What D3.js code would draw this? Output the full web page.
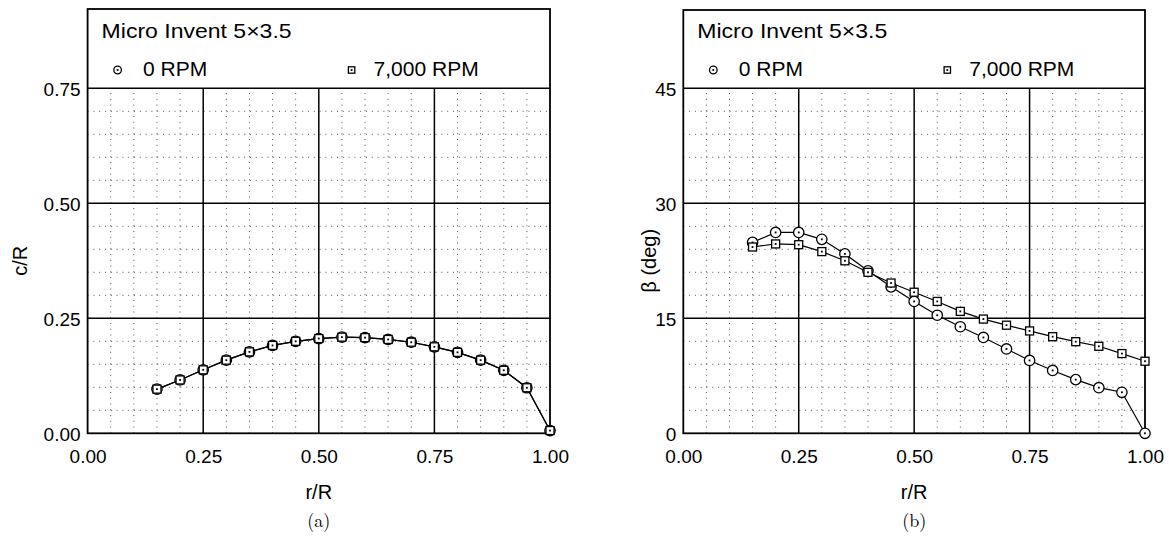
<!DOCTYPE html>
<html><head><meta charset="utf-8">
<script src="https://cdn.jsdelivr.net/npm/d3@7"></script>
<style>
body{margin:0;background:#fff}
svg{display:block}
text{font-family:"Liberation Sans",Arial,Helvetica,sans-serif;fill:#000}
</style></head>
<body>
<svg id="chart" width="1169" height="538"></svg>
<script>
const rR = [0.15,0.20,0.25,0.30,0.35,0.40,0.45,0.50,0.55,0.60,0.65,0.70,0.75,0.80,0.85,0.90,0.95,1.00];
const cR_0rpm = [0.096,0.116,0.138,0.159,0.177,0.191,0.200,0.206,0.209,0.208,0.204,0.198,0.188,0.176,0.159,0.137,0.099,0.006];
const cR_7000rpm = [0.096,0.116,0.138,0.159,0.177,0.191,0.200,0.206,0.209,0.208,0.204,0.198,0.188,0.176,0.159,0.137,0.099,0.006];
const beta_0rpm = [24.9,26.2,26.2,25.3,23.4,21.2,19.1,17.2,15.4,13.9,12.5,11.0,9.5,8.2,7.0,5.95,5.35,0.0];
const beta_7000rpm = [24.3,24.7,24.6,23.7,22.5,21.0,19.6,18.4,17.2,15.9,14.9,14.1,13.35,12.6,11.95,11.35,10.4,9.4];
const xTicks = [0,0.25,0.5,0.75,1.0];
const xTickLabels = ["0.00","0.25","0.50","0.75","1.00"];
const yTicksA = [0,0.25,0.5,0.75];
const yTickLabelsA = ["0.00","0.25","0.50","0.75"];
const yTicksB = [0,15,30,45];
const yTickLabelsB = ["0","15","30","45"];
const legendTitle = "Micro Invent 5\u00d73.5";
const seriesNames = ["0 RPM","7,000 RPM"];

const svg = d3.select("#chart");

function panel(opt){
  const g = svg.append("g");
  const x = d3.scaleLinear().domain([0,1]).range([opt.x0, opt.x1]);
  const y = d3.scaleLinear().domain([0, opt.ymax]).range([433.3, 88.3]);
  const top = opt.top;
  // minor grid
  const minorX = d3.range(0.05, 1.0001, 0.05).filter(v => Math.abs(v*4 - Math.round(v*4)) > 1e-6);
  const minorY = d3.range(opt.minorStep, opt.ymax+1e-6, opt.minorStep).filter(v => Math.abs(v/opt.majorStep - Math.round(v/opt.majorStep)) > 1e-6);
  g.selectAll(".mx").data(minorX).enter().append("line")
    .attr("x1", d=>x(d)).attr("x2", d=>x(d)).attr("y1", y(0)).attr("y2", y(opt.ymax))
    .attr("stroke","#555").attr("stroke-width",1).attr("stroke-dasharray","1,4.75");
  g.selectAll(".my").data(minorY).enter().append("line")
    .attr("x1", x(0)).attr("x2", x(1)).attr("y1", d=>y(d)).attr("y2", d=>y(d))
    .attr("stroke","#555").attr("stroke-width",1).attr("stroke-dasharray","1,4.8");
  // major grid
  g.selectAll(".Mx").data(xTicks.slice(1,-1)).enter().append("line")
    .attr("x1", d=>x(d)).attr("x2", d=>x(d)).attr("y1", y(0)).attr("y2", y(opt.ymax))
    .attr("stroke","#000").attr("stroke-width",1.5);
  g.selectAll(".My").data(opt.yTicks.slice(1)).enter().append("line")
    .attr("x1", x(0)).attr("x2", x(1)).attr("y1", d=>y(d)).attr("y2", d=>y(d))
    .attr("stroke","#000").attr("stroke-width",1.5);
  // frame
  g.append("rect").attr("x", x(0)).attr("y", top).attr("width", x(1)-x(0)).attr("height", y(0)-top)
    .attr("fill","none").attr("stroke","#000").attr("stroke-width",1.8);

  // axes (labels)
  const xAxis = d3.axisBottom(x).tickValues(xTicks).tickFormat((d,i)=>xTickLabels[i]).tickSize(0).tickPadding(0);
  const gx = g.append("g").attr("transform",`translate(0,${y(0)})`).call(xAxis);
  gx.select(".domain").remove();
  gx.selectAll("text").attr("font-size",19).attr("font-family",null).attr("dy",null).attr("y",30);
  const yAxis = d3.axisLeft(y).tickValues(opt.yTicks).tickFormat((d,i)=>opt.yTickLabels[i]).tickSize(0).tickPadding(7);
  const gy = g.append("g").attr("transform",`translate(${x(0)},0)`).call(yAxis);
  gy.select(".domain").remove();
  gy.selectAll("text").attr("font-size",19).attr("font-family",null).attr("dy","0.36em");

  // axis titles
  g.append("text").attr("x",(x(0)+x(1))/2).attr("y",499).attr("text-anchor","middle").attr("font-size",20).text("r/R");
  g.append("text").attr("transform",`translate(${opt.yTitleX},${(y(0)+y(opt.ymax))/2}) rotate(-90)`)
    .attr("text-anchor","middle").attr("font-size",20).text(opt.yTitle);
  g.append("text").attr("x",(x(0)+x(1))/2).attr("y",527).attr("text-anchor","middle")
    .attr("font-size",18).style("font-family","'Latin Modern Roman','DejaVu Serif','Liberation Serif',serif").text(opt.caption);

  // lines & markers
  const line = d3.line().x((d,i)=>x(rR[i])).y(d=>y(d));
  [opt.s0, opt.s1].forEach(s=>{
    g.append("path").datum(s).attr("d",line).attr("fill","none").attr("stroke","#000").attr("stroke-width",1.2);
  });
  function circleMarker(gg, cx, cy, r){
    gg.append("circle").attr("cx",cx).attr("cy",cy).attr("r",r).attr("fill","#fff").attr("stroke","#000").attr("stroke-width",1.3);
    gg.append("rect").attr("x",cx-0.9).attr("y",cy-0.9).attr("width",1.8).attr("height",1.8).attr("fill","#000");
  }
  function squareMarker(gg, cx, cy, h){
    gg.append("rect").attr("x",cx-h).attr("y",cy-h).attr("width",2*h).attr("height",2*h).attr("fill","#fff").attr("stroke","#000").attr("stroke-width",1.3);
    gg.append("rect").attr("x",cx-0.9).attr("y",cy-0.9).attr("width",1.8).attr("height",1.8).attr("fill","#000");
  }
  const m = g.append("g");
  opt.s0.forEach((v,i)=>circleMarker(m, x(rR[i]), y(v), 5.2));
  opt.s1.forEach((v,i)=>squareMarker(m, x(rR[i]), y(v), 4));

  // legend
  const lx = x(0);
  g.append("text").attr("x", lx+14).attr("y", 38).attr("font-size",21)
    .attr("textLength",190).attr("lengthAdjust","spacingAndGlyphs").text(legendTitle);
  circleMarker(g, lx+30, 70, 3.8);
  g.append("text").attr("x", lx+55.5).attr("y", 76).attr("font-size",21).text(seriesNames[0]);
  squareMarker(g, lx+264, 70, 3.2);
  g.append("text").attr("x", lx+286).attr("y", 76).attr("font-size",21).text(seriesNames[1]);
}

panel({x0:87.6, x1:550, top:9, ymax:0.75, minorStep:0.05, majorStep:0.25, yTicks:yTicksA, yTickLabels:yTickLabelsA,
  yTitle:"c/R", yTitleX:27, caption:"(a)", s0:cR_0rpm, s1:cR_7000rpm});
panel({x0:683.3, x1:1145, top:10, ymax:45, minorStep:3, majorStep:15, yTicks:yTicksB, yTickLabels:yTickLabelsB,
  yTitle:"\u03b2 (deg)", yTitleX:656, caption:"(b)", s0:beta_0rpm, s1:beta_7000rpm});
</script>
</body></html>
